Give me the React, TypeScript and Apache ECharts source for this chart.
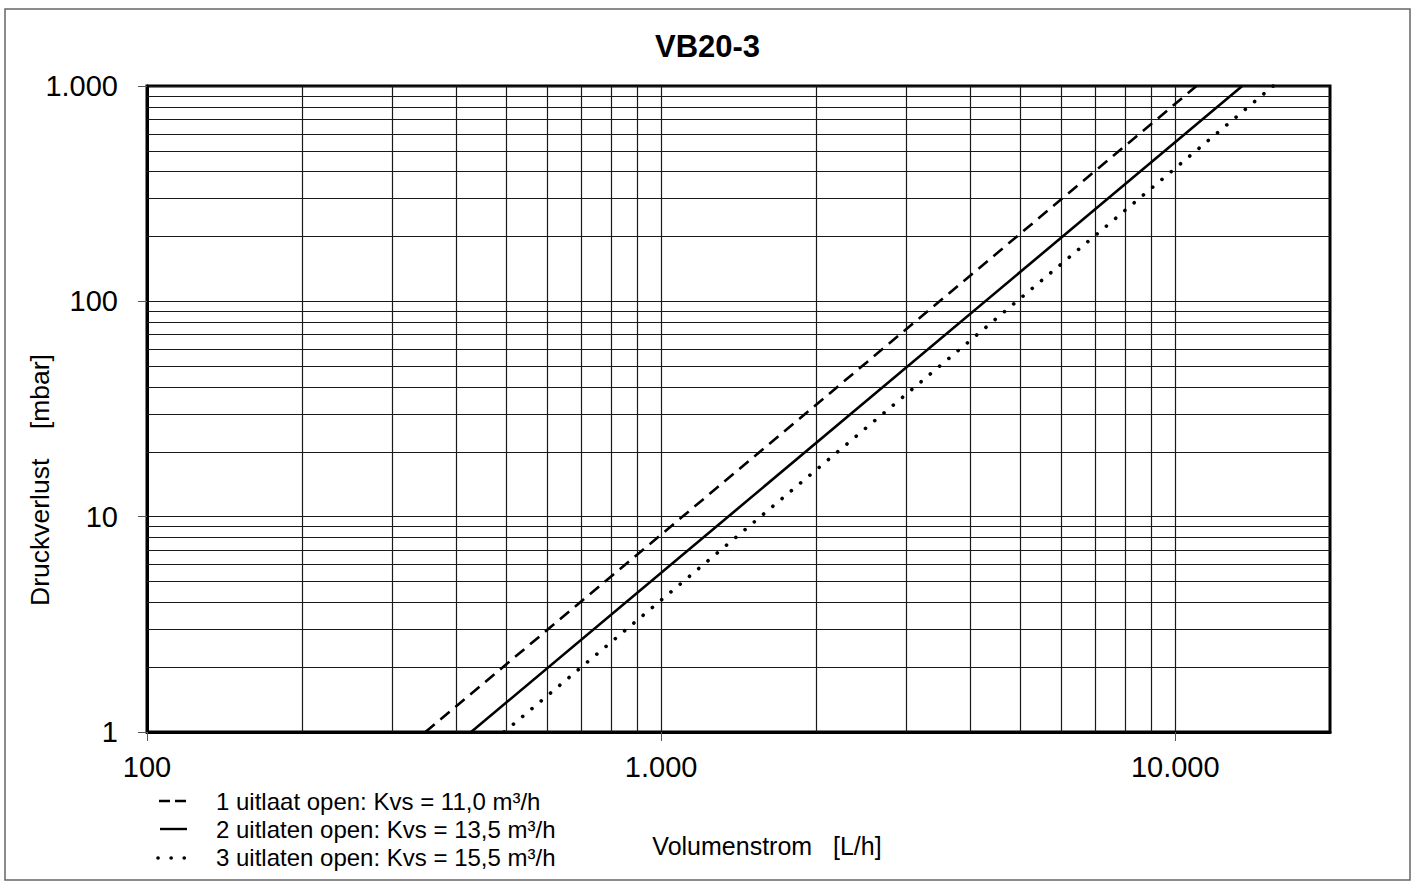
import React, { useEffect, useRef } from "react";
import * as echarts from "echarts";

// ---- data ----
const chartTitle = "VB20-3";
const xAxisName = "Volumenstrom   [L/h]";
const yAxisName = "Druckverlust    [mbar]";

const xMajorTicks = [100, 1000, 10000];
const yMajorTicks = [1, 10, 100, 1000];
const xMinorGrid = [200, 300, 400, 500, 600, 700, 800, 900, 2000, 3000, 4000, 5000, 6000, 7000, 8000, 9000];
const yMinorGrid = [2, 3, 4, 5, 6, 7, 8, 9, 20, 30, 40, 50, 60, 70, 80, 90, 200, 300, 400, 500, 600, 700, 800, 900];

const seriesNames = [
  "1 uitlaat open: Kvs = 11,0 m³/h",
  "2 uitlaten open: Kvs = 13,5 m³/h",
  "3 uitlaten open: Kvs = 15,5 m³/h",
];
// flow [L/h] at pressure drop [mbar]
const pressure = [1, 1000];
const flowKvs11 = [348, 11000];
const flowKvs135 = [427, 13500];
const flowKvs155 = [495, 15500];

const FONT = "'Liberation Sans', Arial, Helvetica, sans-serif";

const fmtThousands = (v: number) =>
  String(Math.round(v)).replace(/\B(?=(\d{3})+(?!\d))/g, ".");

export default function App() {
  const ref = useRef<HTMLDivElement>(null);

  useEffect(() => {
    document.body.style.margin = "0";
    if (!ref.current) return;
    const chart = echarts.init(ref.current, undefined, { renderer: "svg" });

    const toPairs = (xs: number[]) => xs.map((x, i) => [x, pressure[i]]);

    const curveStyles = [
      { color: "#000", width: 2.6, type: [12, 7.5] as any, cap: "butt" },
      { color: "#000", width: 2.6, type: "solid" as any, cap: "butt" },
      { color: "#000", width: 3.6, type: [0.1, 12] as any, cap: "round" },
    ];
    const flows = [flowKvs11, flowKvs135, flowKvs155];

    const legendRows = [801, 829, 857];
    const legendGraphics: any[] = [];
    legendRows.forEach((y, i) => {
      if (i === 0) {
        legendGraphics.push({
          type: "line",
          shape: { x1: 159, y1: y, x2: 187, y2: y },
          style: { stroke: "#000", lineWidth: 2.4, lineDash: [11, 5] },
        });
      } else if (i === 1) {
        legendGraphics.push({
          type: "line",
          shape: { x1: 160, y1: y, x2: 187, y2: y },
          style: { stroke: "#000", lineWidth: 2.4 },
        });
      } else {
        legendGraphics.push({
          type: "line",
          shape: { x1: 158, y1: y + 1, x2: 185, y2: y + 1 },
          style: { stroke: "#000", lineWidth: 3.6, lineDash: [0.1, 13], lineCap: "round" },
        });
      }
      legendGraphics.push({
        type: "text",
        x: 216,
        y: y,
        style: {
          text: seriesNames[i],
          font: `24px ${FONT}`,
          fill: "#000",
          verticalAlign: "middle",
          align: "left",
        },
      });
    });

    const option: any = {
      animation: false,
      backgroundColor: "#fff",
      title: {
        text: chartTitle,
        left: "center",
        top: 26,
        textStyle: { fontFamily: FONT, fontSize: 31, fontWeight: "bold", color: "#000" },
      },
      grid: {
        left: 147,
        right: 85,
        top: 86,
        bottom: 151,
        show: true,
        borderColor: "#000",
        borderWidth: 3,
        containLabel: false,
        outerBoundsMode: "none",
      },
      xAxis: {
        type: "log",
        logBase: 10,
        min: 100,
        max: 20000,
        axisLine: { show: true, lineStyle: { color: "#000", width: 3 } },
        axisTick: {
          show: true,
          inside: false,
          length: 9,
          customValues: xMajorTicks,
          lineStyle: { color: "#555", width: 1 },
        },
        axisLabel: {
          customValues: xMajorTicks,
          margin: 20,
          fontFamily: FONT,
          fontSize: 29,
          color: "#000",
          formatter: (v: number) => fmtThousands(v),
        },
        splitLine: { show: true, lineStyle: { color: "#1a1a1a", width: 1.2 } },
        minorTick: { show: false },
      },
      yAxis: {
        type: "log",
        logBase: 10,
        min: 1,
        max: 1000,
        axisLine: { show: true, lineStyle: { color: "#000", width: 3 } },
        axisTick: {
          show: true,
          inside: false,
          length: 9,
          customValues: yMajorTicks,
          lineStyle: { color: "#555", width: 1 },
        },
        axisLabel: {
          customValues: yMajorTicks,
          margin: 29,
          fontFamily: FONT,
          fontSize: 29,
          color: "#000",
          formatter: (v: number) => fmtThousands(v),
        },
        splitLine: { show: true, lineStyle: { color: "#1a1a1a", width: 1.2 } },
      },
      graphic: [
        {
          type: "rect",
          shape: { x: 5, y: 9, width: 1405, height: 871 },
          style: { fill: "none", stroke: "#666", lineWidth: 1.5 },
          silent: true,
          z: -1,
        },
        {
          type: "text",
          x: 767,
          y: 846,
          style: {
            text: xAxisName,
            font: `25px ${FONT}`,
            fill: "#000",
            align: "center",
            verticalAlign: "middle",
          },
        },
        {
          type: "text",
          x: 40,
          y: 480,
          rotation: Math.PI / 2,
          style: {
            text: yAxisName,
            font: `26.5px ${FONT}`,
            fill: "#000",
            align: "center",
            verticalAlign: "middle",
          },
        },
        ...legendGraphics,
      ],
      series: [
        {
          type: "line",
          name: "grid",
          data: [],
          silent: true,
          z: 1,
          markLine: {
            silent: true,
            z: 1,
            symbol: ["none", "none"],
            label: { show: false },
            emphasis: { disabled: true },
            lineStyle: { color: "#1a1a1a", width: 1.2, type: "solid" },
            data: [
              ...xMinorGrid.map((v) => ({ xAxis: v })),
              ...yMinorGrid.map((v) => ({ yAxis: v })),
            ],
          },
        },
        ...flows.map((f, i) => ({
          type: "line",
          name: seriesNames[i],
          data: toPairs(f),
          showSymbol: false,
          symbol: "none",
          z: 3,
          lineStyle: curveStyles[i],
        })),
      ],
    };

    chart.setOption(option);
    return () => chart.dispose();
  }, []);

  return <div ref={ref} style={{ width: 1415, height: 883 }} />;
}
